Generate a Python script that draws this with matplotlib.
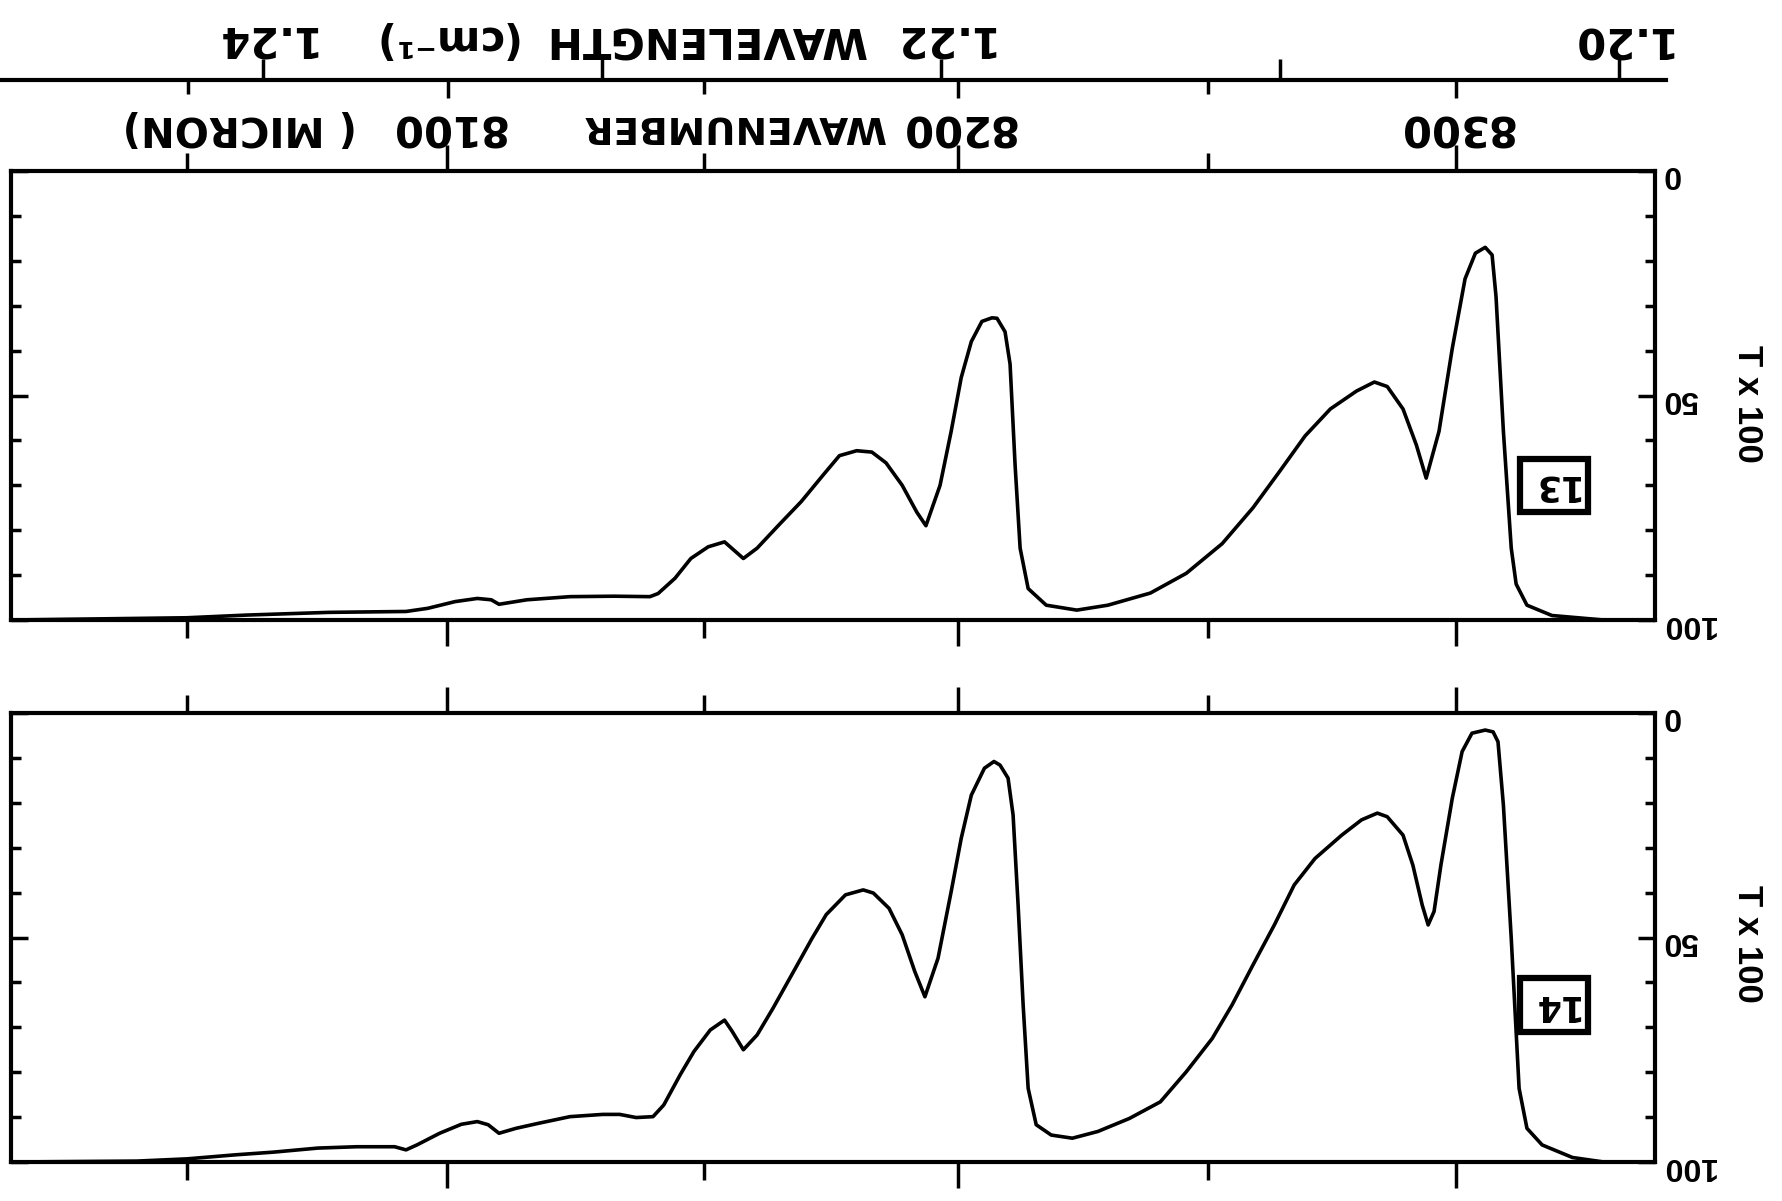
import numpy as np
import matplotlib.pyplot as plt
from matplotlib.ticker import FixedLocator, MultipleLocator
from matplotlib.transforms import blended_transform_factory

W, H = 1783, 1201

# spectrum 13 (upper panel): wavenumber (cm-1), T x 100
nu_13 = [8016.4, 8049.9, 8061.4, 8077.1, 8092.0, 8096.2, 8101.5, 8105.8, 8108.5, 8110.0,
         8115.4, 8123.8, 8132.4, 8139.4, 8141.0, 8144.3, 8147.4, 8150.8, 8154.0, 8157.7,
         8160.4, 8164.7, 8169.1, 8173.4, 8176.6, 8180.0, 8183.0, 8185.8, 8189.0, 8191.9,
         8193.7, 8196.5, 8198.7, 8200.7, 8202.7, 8204.8, 8206.8, 8207.8, 8209.4, 8210.4,
         8211.4, 8212.4, 8214.0, 8217.6, 8223.7, 8229.9, 8238.4, 8245.6, 8252.8, 8259.0,
         8264.3, 8269.5, 8274.6, 8279.9, 8283.5, 8286.1, 8289.3, 8292.0, 8294.0, 8296.6,
         8299.3, 8301.9, 8304.0, 8306.0, 8307.4, 8308.2, 8309.7, 8311.3, 8312.3, 8314.5,
         8319.6, 8330.2, 8340.7]
t_13 = [100, 99.5, 98.9, 98.3, 98.1, 97.4, 95.9, 95.2, 95.5, 96.5,
        95.5, 94.8, 94.7, 94.8, 94.1, 90.7, 86.3, 83.7, 82.6, 86.3,
        84, 78.8, 73.6, 67.7, 63.4, 62.3, 62.6, 65, 70, 76,
        79, 70, 58, 46, 38, 33.5, 32.7, 32.8, 35.8, 43,
        65.5, 84, 93, 96.7, 97.8, 96.7, 94, 89.6, 83, 75,
        67, 59, 53, 49, 47, 48, 53, 61, 68.4, 58,
        39.5, 24, 18.3, 17, 18.7, 28, 58, 84, 92, 96.7,
        99, 100, 100]

# spectrum 14 (lower panel)
nu_14 = [8016.4, 8040.3, 8049.9, 8059.2, 8066.5, 8075.0, 8082.5, 8089.8, 8092.0, 8094.1,
         8098.5, 8102.7, 8105.8, 8107.9, 8110.0, 8113.3, 8117.6, 8123.8, 8130.2, 8133.5,
         8136.7, 8140.0, 8142.1, 8145.3, 8148.0, 8151.2, 8154.0, 8155.5, 8157.7, 8160.4,
         8163.5, 8167.9, 8171.2, 8174.0, 8177.8, 8181.3, 8183.3, 8186.4, 8189.0, 8191.5,
         8193.5, 8196.1, 8198.7, 8200.7, 8202.7, 8205.3, 8207.2, 8208.4, 8210.0, 8211.0,
         8212.0, 8213.0, 8214.0, 8215.6, 8218.6, 8222.8, 8227.9, 8234.2, 8240.4, 8245.6,
         8250.8, 8254.8, 8259.0, 8263.3, 8267.3, 8271.5, 8276.9, 8280.9, 8284.1, 8286.1,
         8289.3, 8291.3, 8293.2, 8294.4, 8295.6, 8297.0, 8299.3, 8301.3, 8303.3, 8306.0,
         8307.6, 8308.6, 8309.7, 8311.3, 8312.9, 8314.5, 8317.6, 8323.8, 8330.2, 8340.7]
t_14 = [100, 99.8, 99.3, 98.4, 97.8, 96.9, 96.6, 96.6, 97.3, 96.2,
        93.6, 91.6, 91, 91.7, 93.6, 92.5, 91.4, 89.9, 89.4, 89.4,
        90.1, 89.9, 87.3, 80.6, 75.4, 70.6, 68.4, 70.9, 75, 71.7,
        65.8, 56.9, 50.2, 44.9, 40.5, 39.4, 40.1, 43.5, 49.4, 57.6,
        63.2, 54.6, 39.8, 27.9, 18.3, 12.3, 10.8, 11.6, 14.5, 22.7,
        42.8, 65, 83.6, 91.7, 94, 94.7, 93.2, 90.3, 86.6, 79.9,
        72.5, 65, 56.1, 47.2, 38.3, 32.4, 27.2, 23.8, 22.3, 23.1,
        27.2, 33.9, 42.8, 47.2, 44.2, 33.8, 19, 8.6, 4.5, 3.8,
        4.2, 6.4, 20.5, 50.2, 83.6, 92.5, 96.2, 99, 100, 100]

wn_major = [8100, 8200, 8300]
wn_minor = [8050, 8150, 8250]
wl_ticks = [1.20, 1.21, 1.22, 1.23, 1.24]
wl_labels = {1.20: '1.20', 1.22: '1.22', 1.24: '1.24'}
t_ticks = [0, 50, 100]
panel_ids = ['13', '14']

NU_LO, NU_HI = 8016.4, 8340.7      # panel edges
LINE_LO, LINE_HI = 8014.3, 8342.9  # scale line at the top

BOLD = dict(fontfamily='DejaVu Sans', fontweight='bold', color='black')
NARROW = dict(fontfamily=['Liberation Sans Narrow', 'Liberation Sans', 'DejaVu Sans'],
              fontweight='bold', color='black')
LW = 3.0


def fwd(n):
    with np.errstate(divide='ignore', invalid='ignore'):
        return -1e4 / np.asarray(n, dtype=float)


def inv(x):
    with np.errstate(divide='ignore', invalid='ignore'):
        return -1e4 / np.asarray(x, dtype=float)


def rect(x0, y0, x1, y1):
    return [x0 / W, 1 - y1 / H, (x1 - x0) / W, (y1 - y0) / H]


fig = plt.figure(figsize=(W / 100, H / 100), dpi=100)

panels = [((171, 620), nu_13, t_13, 70, 404),
          ((713, 1162), nu_14, t_14, 65, 944)]

axes = []
for ((y0, y1), nu, t, box_t, lab_y), pid in zip(panels, panel_ids):
    ax = fig.add_axes(rect(11, y0, 1655, y1))
    ax.set_xscale('function', functions=(fwd, inv))
    ax.set_xlim(NU_LO, NU_HI)
    ax.set_ylim(100, 0)
    ax.plot(nu, t, color='black', lw=2.6, solid_joinstyle='round')
    for s in ax.spines.values():
        s.set_linewidth(LW)

    ax.xaxis.set_major_locator(FixedLocator(wn_major))
    ax.xaxis.set_minor_locator(FixedLocator(wn_minor))
    ax.tick_params(axis='x', which='both', top=True, bottom=True, direction='out',
                   labelbottom=False, labeltop=False, width=2.5)
    ax.tick_params(axis='x', which='major', length=19)
    ax.tick_params(axis='x', which='minor', length=13)

    ax.yaxis.set_major_locator(FixedLocator(t_ticks))
    ax.yaxis.set_minor_locator(MultipleLocator(10))
    ax.tick_params(axis='y', which='both', left=True, right=True, direction='in',
                   labelleft=False, labelright=True, width=2.5)
    ax.tick_params(axis='y', which='major', length=12, pad=5, labelrotation=180)
    ax.tick_params(axis='y', which='minor', length=7)
    for lbl in ax.get_yticklabels():
        lbl.set_fontfamily(NARROW['fontfamily'])
        lbl.set_fontweight('bold')
        lbl.set_fontsize(23)

    ax.text(8320, box_t, pid, rotation=180, ha='center', va='center', fontsize=25,
            bbox=dict(boxstyle='square,pad=0.28', fc='white', ec='black', lw=4.5), **BOLD)
    fig.text(1748 / W, 1 - lab_y / H, 'T x 100', rotation=270, ha='center', va='center',
             fontsize=25, **NARROW)
    axes.append(ax)

# scale line across the top: wavenumber ticks below, wavelength ticks above
lax = fig.add_axes([0, 1 - 80 / H, 1666 / W, 0.0001])
lax.set_xscale('function', functions=(fwd, inv))
lax.set_xlim(LINE_LO, LINE_HI)
for name, s in lax.spines.items():
    s.set_visible(name == 'bottom')
    s.set_linewidth(LW)
lax.set_yticks([])
lax.xaxis.set_major_locator(FixedLocator(wn_major))
lax.xaxis.set_minor_locator(FixedLocator(wn_minor))
lax.tick_params(axis='x', which='both', direction='out', labelbottom=False, width=2.5)
lax.tick_params(axis='x', which='major', length=13)
lax.tick_params(axis='x', which='minor', length=10)

wax = lax.twiny()
wax.set_xlim(1e4 / LINE_LO, 1e4 / LINE_HI)
for s in wax.spines.values():
    s.set_visible(False)
wax.xaxis.set_ticks_position('bottom')
wax.set_xticks(wl_ticks)
wax.tick_params(axis='x', which='major', direction='in', length=15, width=2.5,
                labelbottom=False, labeltop=False)

# labels (upside down, like the scanned page)
row1 = blended_transform_factory(axes[0].transData, fig.transFigure)
for v in wn_major:
    axes[0].text(v, 1 - 127 / H, str(v), transform=row1, rotation=180,
                 ha='center', va='center', fontsize=30, **BOLD)
fig.text(733 / W, 1 - 127 / H, 'WAVENUMBER', rotation=180, ha='center', va='center',
         fontsize=27, **BOLD)
fig.text(240 / W, 1 - 127 / H, '( MICRON)', rotation=180, ha='center', va='center',
         fontsize=29, **BOLD)

row2 = blended_transform_factory(wax.transData, fig.transFigure)
for v, s in wl_labels.items():
    wax.text(v, 1 - 38 / H, s, transform=row2, rotation=180,
             ha='center', va='center', fontsize=30, **BOLD)
fig.text(705 / W, 1 - 38 / H, 'WAVELENGTH', rotation=180, ha='center', va='center',
         fontsize=30, **BOLD)
fig.text(443 / W, 1 - 38 / H, '(cm⁻¹)', rotation=180, ha='center', va='center',
         fontsize=30, **BOLD)

fig.savefig('out.png', dpi=100, facecolor='white')
